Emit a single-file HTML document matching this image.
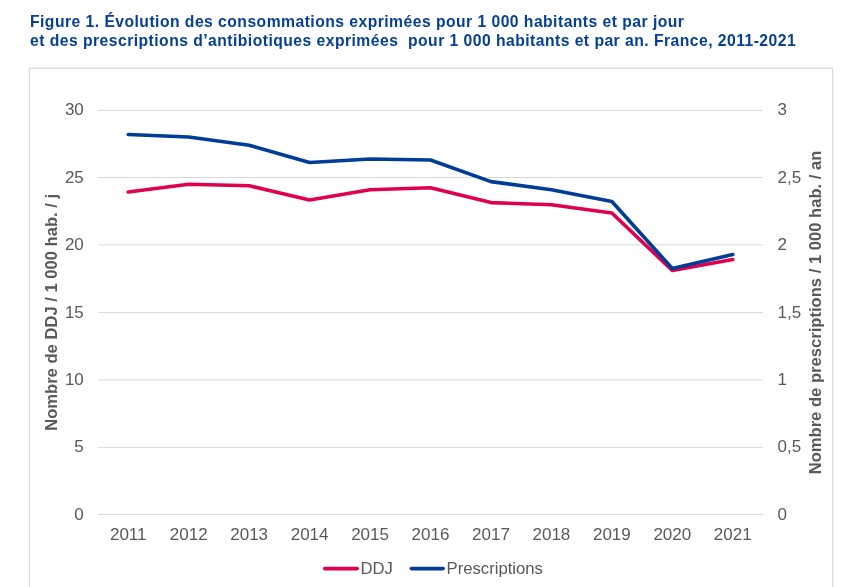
<!DOCTYPE html>
<html><head><meta charset="utf-8"><style>
html,body{margin:0;padding:0;background:#fff;}
body{width:863px;height:587px;overflow:hidden;position:relative;font-family:"Liberation Sans",sans-serif;}
.title{position:absolute;left:30px;top:11.5px;font-size:15.7px;letter-spacing:0.465px;line-height:19px;font-weight:bold;color:#063f98;white-space:pre;will-change:transform;}
svg{position:absolute;left:0;top:0;will-change:transform;}
svg text{font-family:"Liberation Sans",sans-serif;font-size:17px;fill:#595959;}
svg text.b{font-weight:bold;fill:#595959;font-size:16.6px;}
</style></head><body>
<div class="title">Figure 1. Évolution des consommations exprimées pour 1 000 habitants et par jour
et des prescriptions d’antibiotiques exprimées  pour 1 000 habitants et par an. France, 2011-2021</div>
<svg width="863" height="587" viewBox="0 0 863 587">
<rect x="29.4" y="68.3" width="803.2" height="540" fill="none" stroke="#d9d9d9" stroke-width="1.3"/>
<line x1="98.0" x2="763.0" y1="514.50" y2="514.50" stroke="#d9d9d9" stroke-width="1"/><line x1="98.0" x2="763.0" y1="447.33" y2="447.33" stroke="#d9d9d9" stroke-width="1"/><line x1="98.0" x2="763.0" y1="379.86" y2="379.86" stroke="#d9d9d9" stroke-width="1"/><line x1="98.0" x2="763.0" y1="312.46" y2="312.46" stroke="#d9d9d9" stroke-width="1"/><line x1="98.0" x2="763.0" y1="244.86" y2="244.86" stroke="#d9d9d9" stroke-width="1"/><line x1="98.0" x2="763.0" y1="177.50" y2="177.50" stroke="#d9d9d9" stroke-width="1"/><line x1="98.0" x2="763.0" y1="110.33" y2="110.33" stroke="#d9d9d9" stroke-width="1"/>
<text x="83.8" y="520.15" text-anchor="end">0</text><text x="83.8" y="452.18" text-anchor="end">5</text><text x="83.8" y="385.18" text-anchor="end">10</text><text x="83.8" y="318.20" text-anchor="end">15</text><text x="83.8" y="250.20" text-anchor="end">20</text><text x="83.8" y="183.20" text-anchor="end">25</text><text x="83.8" y="115.20" text-anchor="end">30</text><text x="777.5" y="520.15">0</text><text x="777.5" y="452.18">0,5</text><text x="777.5" y="385.18">1</text><text x="777.5" y="318.20">1,5</text><text x="777.5" y="250.20">2</text><text x="777.5" y="183.20">2,5</text><text x="777.5" y="115.20">3</text><text x="128.23" y="540" text-anchor="middle">2011</text><text x="188.68" y="540" text-anchor="middle">2012</text><text x="249.14" y="540" text-anchor="middle">2013</text><text x="309.59" y="540" text-anchor="middle">2014</text><text x="370.05" y="540" text-anchor="middle">2015</text><text x="430.50" y="540" text-anchor="middle">2016</text><text x="490.95" y="540" text-anchor="middle">2017</text><text x="551.41" y="540" text-anchor="middle">2018</text><text x="611.86" y="540" text-anchor="middle">2019</text><text x="672.32" y="540" text-anchor="middle">2020</text><text x="732.77" y="540" text-anchor="middle">2021</text>
<polyline points="128.23,192.00 188.68,184.25 249.14,185.75 309.59,200.00 370.05,189.75 430.50,187.75 490.95,202.60 551.41,204.75 611.86,213.00 672.32,270.50 732.77,259.50" fill="none" stroke="#e0004d" stroke-width="3.6" stroke-linecap="round" stroke-linejoin="round"/>
<polyline points="128.23,134.50 188.68,137.00 249.14,145.25 309.59,162.50 370.05,159.00 430.50,160.00 490.95,181.60 551.41,189.75 611.86,201.50 672.32,268.50 732.77,254.50" fill="none" stroke="#003d96" stroke-width="3.6" stroke-linecap="round" stroke-linejoin="round"/>
<text class="b" transform="translate(57,312.35) rotate(-90)" text-anchor="middle">Nombre de DDJ / 1 000 hab. / j</text>
<text class="b" transform="translate(820.8,312.5) rotate(-90)" text-anchor="middle">Nombre de prescriptions / 1 000 hab. / an</text>
<line x1="324.7" x2="357.2" y1="568.6" y2="568.6" stroke="#e0004d" stroke-width="3.6" stroke-linecap="round"/>
<text x="360.4" y="574" style="font-size:16.7px">DDJ</text>
<line x1="411.3" x2="443.1" y1="568.6" y2="568.6" stroke="#003d96" stroke-width="3.6" stroke-linecap="round"/>
<text x="446.5" y="574" style="font-size:16.7px">Prescriptions</text>
</svg>
</body></html>
